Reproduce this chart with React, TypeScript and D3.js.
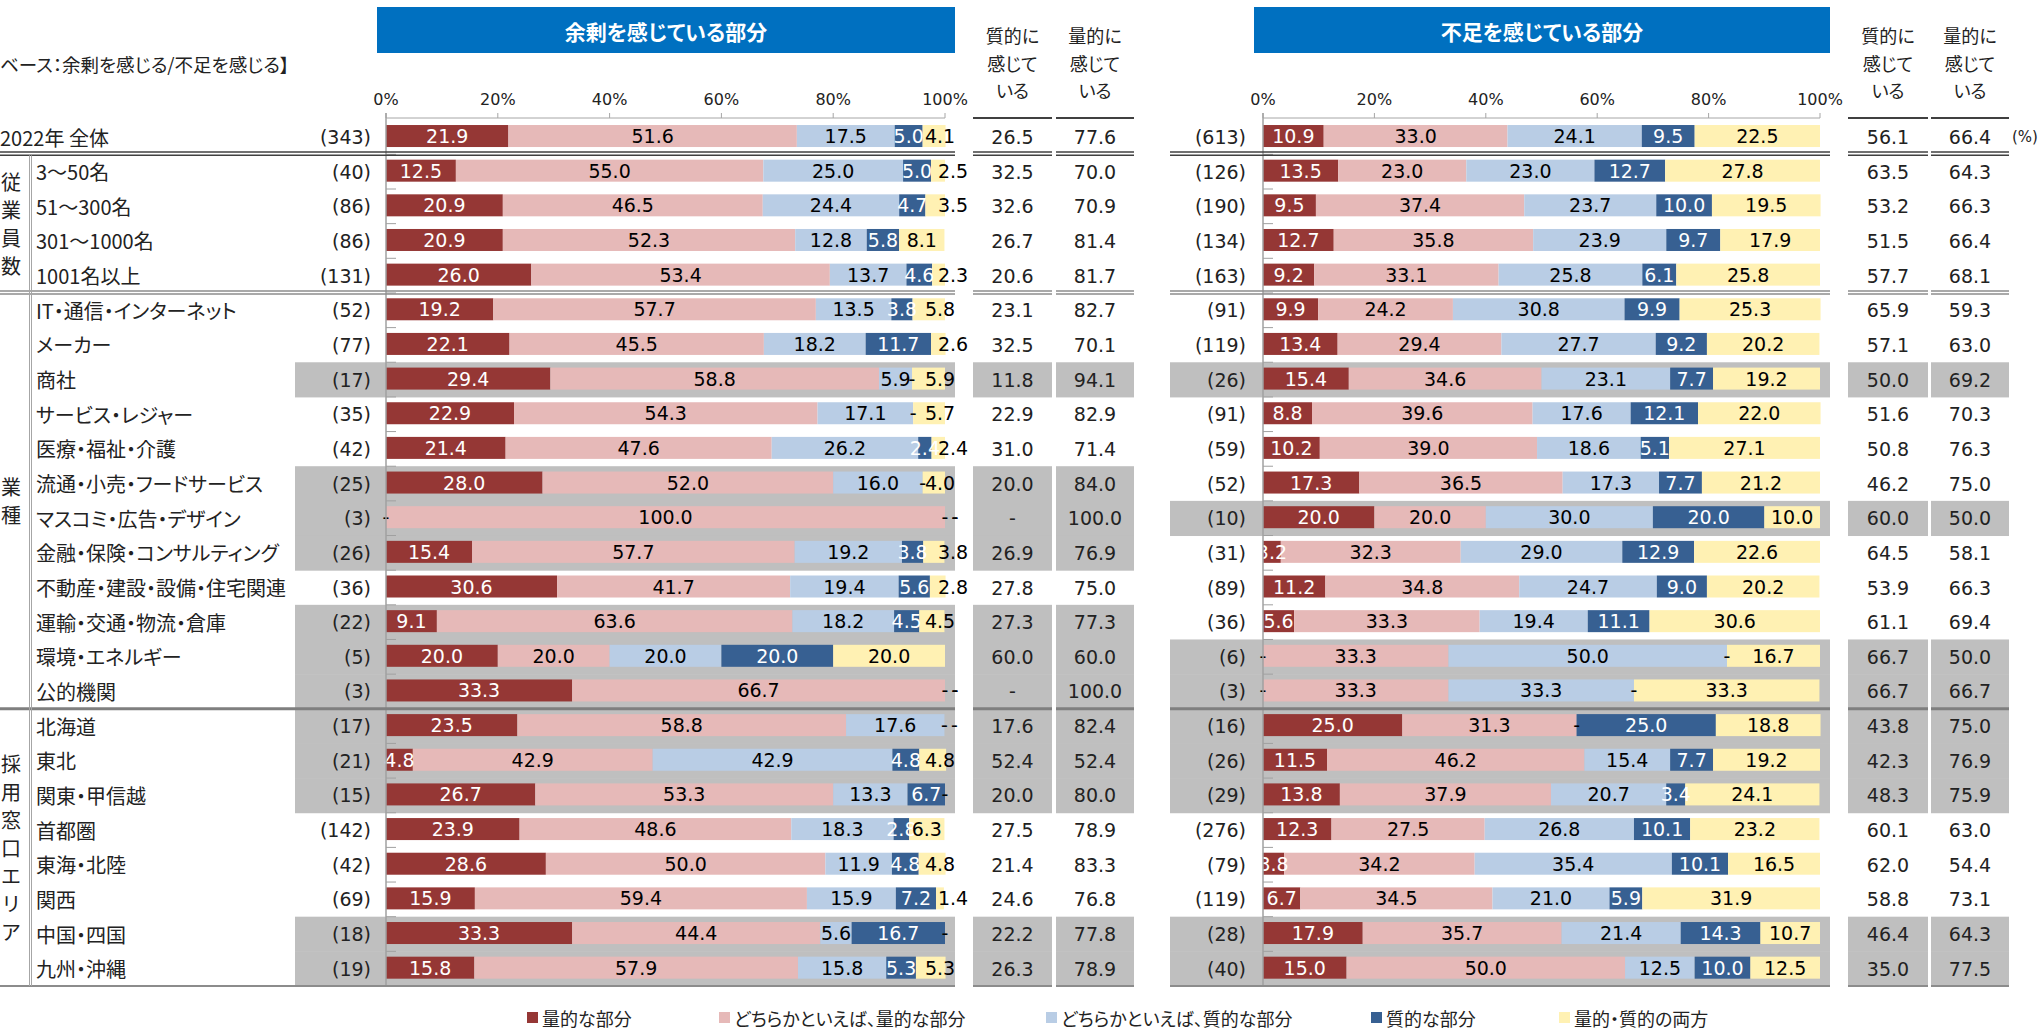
import React from 'react'
import * as d3 from 'd3'

const categories = [
  '2022年 全体',
  '3～50名', '51～300名', '301～1000名', '1001名以上',
  'IT・通信・インターネット', 'メーカー', '商社', 'サービス・レジャー', '医療・福祉・介護',
  '流通・小売・フードサービス', 'マスコミ・広告・デザイン', '金融・保険・コンサルティング',
  '不動産・建設・設備・住宅関連', '運輸・交通・物流・倉庫', '環境・エネルギー', '公的機関',
  '北海道', '東北', '関東・甲信越', '首都圏', '東海・北陸', '関西', '中国・四国', '九州・沖縄'
]

const groupNames = ['従業員数', '業種', '採用窓口エリア']
const groupRows = [[1, 4], [5, 16], [17, 24]]

const seriesNames = ['量的な部分', 'どちらかといえば、量的な部分', 'どちらかといえば、質的な部分', '質的な部分', '量的・質的の両方']
const colors = ['#953735', '#E6B9B8', '#B9CDE5', '#376092', '#FFF1B3']
const labelColors = ['#ffffff', '#000000', '#000000', '#ffffff', '#000000']
const ticks = [0, 20, 40, 60, 80, 100]

// 余剰を感じている部分
const surplusN = [343, 40, 86, 86, 131, 52, 77, 17, 35, 42, 25, 3, 26, 36, 22, 5, 3, 17, 21, 15, 142, 42, 69, 18, 19]
const surplusValues = [
  [21.9, 51.6, 17.5, 5.0, 4.1],
  [12.5, 55.0, 25.0, 5.0, 2.5],
  [20.9, 46.5, 24.4, 4.7, 3.5],
  [20.9, 52.3, 12.8, 5.8, 8.1],
  [26.0, 53.4, 13.7, 4.6, 2.3],
  [19.2, 57.7, 13.5, 3.8, 5.8],
  [22.1, 45.5, 18.2, 11.7, 2.6],
  [29.4, 58.8, 5.9, 0, 5.9],
  [22.9, 54.3, 17.1, 0, 5.7],
  [21.4, 47.6, 26.2, 2.4, 2.4],
  [28.0, 52.0, 16.0, 0, 4.0],
  [0, 100.0, 0, 0, 0],
  [15.4, 57.7, 19.2, 3.8, 3.8],
  [30.6, 41.7, 19.4, 5.6, 2.8],
  [9.1, 63.6, 18.2, 4.5, 4.5],
  [20.0, 20.0, 20.0, 20.0, 20.0],
  [33.3, 66.7, 0, 0, 0],
  [23.5, 58.8, 17.6, 0, 0],
  [4.8, 42.9, 42.9, 4.8, 4.8],
  [26.7, 53.3, 13.3, 6.7, 0],
  [23.9, 48.6, 18.3, 2.8, 6.3],
  [28.6, 50.0, 11.9, 4.8, 4.8],
  [15.9, 59.4, 15.9, 7.2, 1.4],
  [33.3, 44.4, 5.6, 16.7, 0],
  [15.8, 57.9, 15.8, 5.3, 5.3]
]
const surplusQual = [26.5, 32.5, 32.6, 26.7, 20.6, 23.1, 32.5, 11.8, 22.9, 31.0, 20.0, null, 26.9, 27.8, 27.3, 60.0, null, 17.6, 52.4, 20.0, 27.5, 21.4, 24.6, 22.2, 26.3]
const surplusQuant = [77.6, 70.0, 70.9, 81.4, 81.7, 82.7, 70.1, 94.1, 82.9, 71.4, 84.0, 100.0, 76.9, 75.0, 77.3, 60.0, 100.0, 82.4, 52.4, 80.0, 78.9, 83.3, 76.8, 77.8, 78.9]
const surplusShaded = [0, 0, 0, 0, 0, 0, 0, 1, 0, 0, 1, 1, 1, 0, 1, 1, 1, 1, 1, 1, 0, 0, 0, 1, 1]

// 不足を感じている部分
const shortageN = [613, 126, 190, 134, 163, 91, 119, 26, 91, 59, 52, 10, 31, 89, 36, 6, 3, 16, 26, 29, 276, 79, 119, 28, 40]
const shortageValues = [
  [10.9, 33.0, 24.1, 9.5, 22.5],
  [13.5, 23.0, 23.0, 12.7, 27.8],
  [9.5, 37.4, 23.7, 10.0, 19.5],
  [12.7, 35.8, 23.9, 9.7, 17.9],
  [9.2, 33.1, 25.8, 6.1, 25.8],
  [9.9, 24.2, 30.8, 9.9, 25.3],
  [13.4, 29.4, 27.7, 9.2, 20.2],
  [15.4, 34.6, 23.1, 7.7, 19.2],
  [8.8, 39.6, 17.6, 12.1, 22.0],
  [10.2, 39.0, 18.6, 5.1, 27.1],
  [17.3, 36.5, 17.3, 7.7, 21.2],
  [20.0, 20.0, 30.0, 20.0, 10.0],
  [3.2, 32.3, 29.0, 12.9, 22.6],
  [11.2, 34.8, 24.7, 9.0, 20.2],
  [5.6, 33.3, 19.4, 11.1, 30.6],
  [0, 33.3, 50.0, 0, 16.7],
  [0, 33.3, 33.3, 0, 33.3],
  [25.0, 31.3, 0, 25.0, 18.8],
  [11.5, 46.2, 15.4, 7.7, 19.2],
  [13.8, 37.9, 20.7, 3.4, 24.1],
  [12.3, 27.5, 26.8, 10.1, 23.2],
  [3.8, 34.2, 35.4, 10.1, 16.5],
  [6.7, 34.5, 21.0, 5.9, 31.9],
  [17.9, 35.7, 21.4, 14.3, 10.7],
  [15.0, 50.0, 12.5, 10.0, 12.5]
]
const shortageQual = [56.1, 63.5, 53.2, 51.5, 57.7, 65.9, 57.1, 50.0, 51.6, 50.8, 46.2, 60.0, 64.5, 53.9, 61.1, 66.7, 66.7, 43.8, 42.3, 48.3, 60.1, 62.0, 58.8, 46.4, 35.0]
const shortageQuant = [66.4, 64.3, 66.3, 66.4, 68.1, 59.3, 63.0, 69.2, 70.3, 76.3, 75.0, 50.0, 58.1, 66.3, 69.4, 50.0, 66.7, 75.0, 76.9, 75.9, 63.0, 54.4, 73.1, 64.3, 77.5]
const shortageShaded = [0, 0, 0, 0, 0, 0, 0, 1, 0, 0, 0, 1, 0, 0, 0, 1, 1, 1, 1, 1, 0, 0, 0, 1, 1]

const NUM = '"DejaVu Sans", "Noto Sans CJK JP", sans-serif'
const JP = '"Noto Sans CJK JP", sans-serif'
const GRAY = '#BFBFBF'

const rowY = d3.scaleBand<number>().domain(d3.range(categories.length)).range([119.7, 986])
const bw = rowY.bandwidth()
const mid = (i: number) => (rowY(i) as number) + bw / 2
const boundary = (i: number) => (rowY(i) as number)

type PanelCfg = {
  title: string
  grayX0: number
  grayX1: number
  lineX0: number
  nX: number
  range: [number, number]
  cols: [number, number][]
}

const Panel = ({ cfg, n, values, qual, quant, shaded }: any) => {
  const c: PanelCfg = cfg
  const x = d3.scaleLinear().domain([0, 100]).range(c.range)
  const stacked = d3.stack<number[], number>().keys([0, 1, 2, 3, 4]).value((d, k) => d[k])(values)
  const colVals = [qual, quant]
  const spans: [number, number][] = [[c.lineX0, c.grayX1], ...c.cols]

  const hLine = (yy: number, color: string, w: number, key: string) =>
    spans.map(([a, b], j) => <line key={key + j} x1={a} x2={b} y1={yy} y2={yy} stroke={color} strokeWidth={w} />)

  // small end segments: label pushed toward / past the bar end, as in the source
  const labelX = (k: number, d: number[], v: number) => {
    const cx = x((d[0] + d[1]) / 2)
    if (k === 4 && v < 4) return x(100) + 8
    if (k === 4 && v < 6) return Math.max(cx, x(100) - 5)
    return cx
  }

  return (
    <g>
      {/* title box */}
      <rect x={c.range[0] - 9} y={7} width={c.grayX1 - c.range[0] + 9} height={46} fill="#0070C0" />
      <text x={(c.range[0] - 9 + c.grayX1) / 2} y={31} fill="#fff" fontFamily={JP} fontWeight="bold" fontSize={21}
        textAnchor="middle" dominantBaseline="central">{c.title}</text>

      {/* column headers */}
      {c.cols.map(([a, b], j) => (
        <g key={'ch' + j}>
          {[j === 0 ? '質的に' : '量的に', '感じて', 'いる'].map((t, k) => (
            <text key={k} x={(a + b) / 2} y={35 + k * 27.5} fontFamily={JP} fontSize={18} fill="#222"
              textAnchor="middle" dominantBaseline="central">{t}</text>
          ))}
          <line x1={a} x2={b} y1={118} y2={118} stroke="#404040" strokeWidth={2} />
        </g>
      ))}

      {/* shaded rows */}
      {d3.range(n.length).filter(i => shaded[i]).map(i => (
        <g key={'sh' + i}>
          <rect x={c.grayX0} y={boundary(i)} width={c.grayX1 - c.grayX0} height={bw + 0.5} fill={GRAY} />
          {c.cols.map(([a, b], j) => (
            <rect key={j} x={a} y={boundary(i)} width={b - a} height={bw + 0.5} fill={GRAY} />
          ))}
        </g>
      ))}

      {/* axis */}
      <line x1={c.range[0]} x2={c.range[1]} y1={118} y2={118} stroke="#A6A6A6" strokeWidth={1} />
      {ticks.map(t => (
        <g key={'t' + t}>
          <line x1={x(t)} x2={x(t)} y1={113} y2={118} stroke="#A6A6A6" strokeWidth={1} />
          <text x={x(t)} y={99} fontFamily={NUM} fontSize={16} fill="#222" textAnchor="middle"
            dominantBaseline="central">{t + '%'}</text>
        </g>
      ))}

      {/* n labels */}
      {n.map((v: number, i: number) => (
        <text key={'n' + i} x={c.nX} y={mid(i)} fontFamily={NUM} fontSize={19} fill="#222" textAnchor="end"
          dominantBaseline="central">{'(' + v + ')'}</text>
      ))}

      {/* bars */}
      {stacked.map((layer, k) => (
        <g key={'s' + k} fill={colors[k]}>
          {layer.map((d, i) => (
            <rect key={i} x={x(d[0])} y={mid(i) - 12} width={x(d[1]) - x(d[0])} height={22} />
          ))}
        </g>
      ))}

      {/* bar labels */}
      {stacked.map((layer, k) => layer.map((d, i) => {
        const v = values[i][k]
        if (v > 0) {
          return (
            <text key={'l' + k + '-' + i} x={labelX(k, d, v)} y={mid(i) - 1} fontFamily={NUM} fontSize={19}
              fill={labelColors[k]} textAnchor="middle" dominantBaseline="central">{v.toFixed(1)}</text>
          )
        }
        const prevZero = k > 0 && values[i][k - 1] === 0 && stacked[k - 1][i][0] === d[0]
        return (
          <text key={'l' + k + '-' + i} x={x(d[0]) + (prevZero ? 10 : 0)} y={mid(i) - 1} fontFamily={NUM}
            fontSize={19} fill="#000" textAnchor="middle" dominantBaseline="central">-</text>
        )
      }))}

      {/* vertical axis + row ticks */}
      <line x1={c.range[0]} x2={c.range[0]} y1={113} y2={986} stroke="#A0A0A0" strokeWidth={1.5} />
      {d3.range(1, n.length).map(i => (
        <line key={'rt' + i} x1={c.range[0]} x2={c.range[0] + 10} y1={boundary(i)} y2={boundary(i)}
          stroke="#A0A0A0" strokeWidth={1} />
      ))}

      {/* column values */}
      {colVals.map((arr, j) => arr.map((v: number | null, i: number) => (
        <text key={'cv' + j + '-' + i} x={(c.cols[j][0] + c.cols[j][1]) / 2} y={mid(i)} fontFamily={NUM}
          fontSize={19} fill="#222" textAnchor="middle" dominantBaseline="central">
          {v === null ? '-' : v.toFixed(1)}
        </text>
      )))}

      {/* separators */}
      {hLine(boundary(1) - 2.4, '#404040', 1.5, 'a')}
      {hLine(boundary(1) + 0.8, '#404040', 1.5, 'b')}
      {hLine(boundary(groupRows[1][0]) - 2, '#8C8C8C', 1.5, 'c')}
      {hLine(boundary(groupRows[1][0]) + 1, '#8C8C8C', 1.5, 'd')}
      {hLine(boundary(groupRows[2][0]), '#7F7F7F', 3, 'e')}
      {hLine(986, '#8C8C8C', 2, 'f')}
    </g>
  )
}

const leftCfg: PanelCfg = {
  title: '余剰を感じている部分',
  grayX0: 295, grayX1: 955, lineX0: 0, nX: 371,
  range: [386, 945],
  cols: [[973, 1052], [1056, 1134]]
}
const rightCfg: PanelCfg = {
  title: '不足を感じている部分',
  grayX0: 1170, grayX1: 1830, lineX0: 1170, nX: 1246,
  range: [1263, 1820],
  cols: [[1848, 1928], [1931, 2009]]
}

const legendX = [527, 719, 1046, 1371, 1559]

export default function App() {
  return (
    <div style={{ position: 'absolute', left: 0, top: 0 }}>
      <svg width={2039} height={1031} style={{ display: 'block', fontFeatureSettings: '"palt"' }}>
        <rect width={2039} height={1031} fill="#fff" />
        <text x={0} y={64} fontFamily={JP} fontSize={18.5} fill="#222" dominantBaseline="central">
          ベース：余剰を感じる/不足を感じる】
        </text>

        <Panel cfg={leftCfg} n={surplusN} values={surplusValues} qual={surplusQual} quant={surplusQuant}
          shaded={surplusShaded} />
        <Panel cfg={rightCfg} n={shortageN} values={shortageValues} qual={shortageQual} quant={shortageQuant}
          shaded={shortageShaded} />

        {/* category labels */}
        {categories.map((cat, i) => (
          <text key={'c' + i} x={i === 0 ? 0 : 36} y={mid(i)} fontFamily={JP} fontSize={20} fill="#222"
            dominantBaseline="central">{cat}</text>
        ))}

        {/* group labels */}
        {groupNames.map((g, gi) => {
          const cy = (mid(groupRows[gi][0]) + mid(groupRows[gi][1])) / 2
          const chars = Array.from(g)
          return chars.map((ch, k) => (
            <text key={'g' + gi + k} x={11} y={cy + (k - (chars.length - 1) / 2) * 28} fontFamily={JP} fontSize={20}
              fill="#222" textAnchor="middle" dominantBaseline="central">{ch}</text>
          ))
        })}
        <line x1={29.5} x2={29.5} y1={boundary(1) + 1} y2={986} stroke="#A6A6A6" strokeWidth={1} />
        <line x1={31.5} x2={31.5} y1={boundary(1) + 1} y2={986} stroke="#A6A6A6" strokeWidth={1} />

        <text x={2012} y={mid(0)} fontFamily={NUM} fontSize={15} fill="#222" dominantBaseline="central">(%)</text>

        {/* legend */}
        {seriesNames.map((s, k) => (
          <g key={'lg' + k}>
            <rect x={legendX[k]} y={1012} width={11} height={11} fill={colors[k]} />
            <text x={legendX[k] + 15} y={1018} fontFamily={JP} fontSize={18} fill="#222"
              dominantBaseline="central">{s}</text>
          </g>
        ))}
      </svg>
    </div>
  )
}
